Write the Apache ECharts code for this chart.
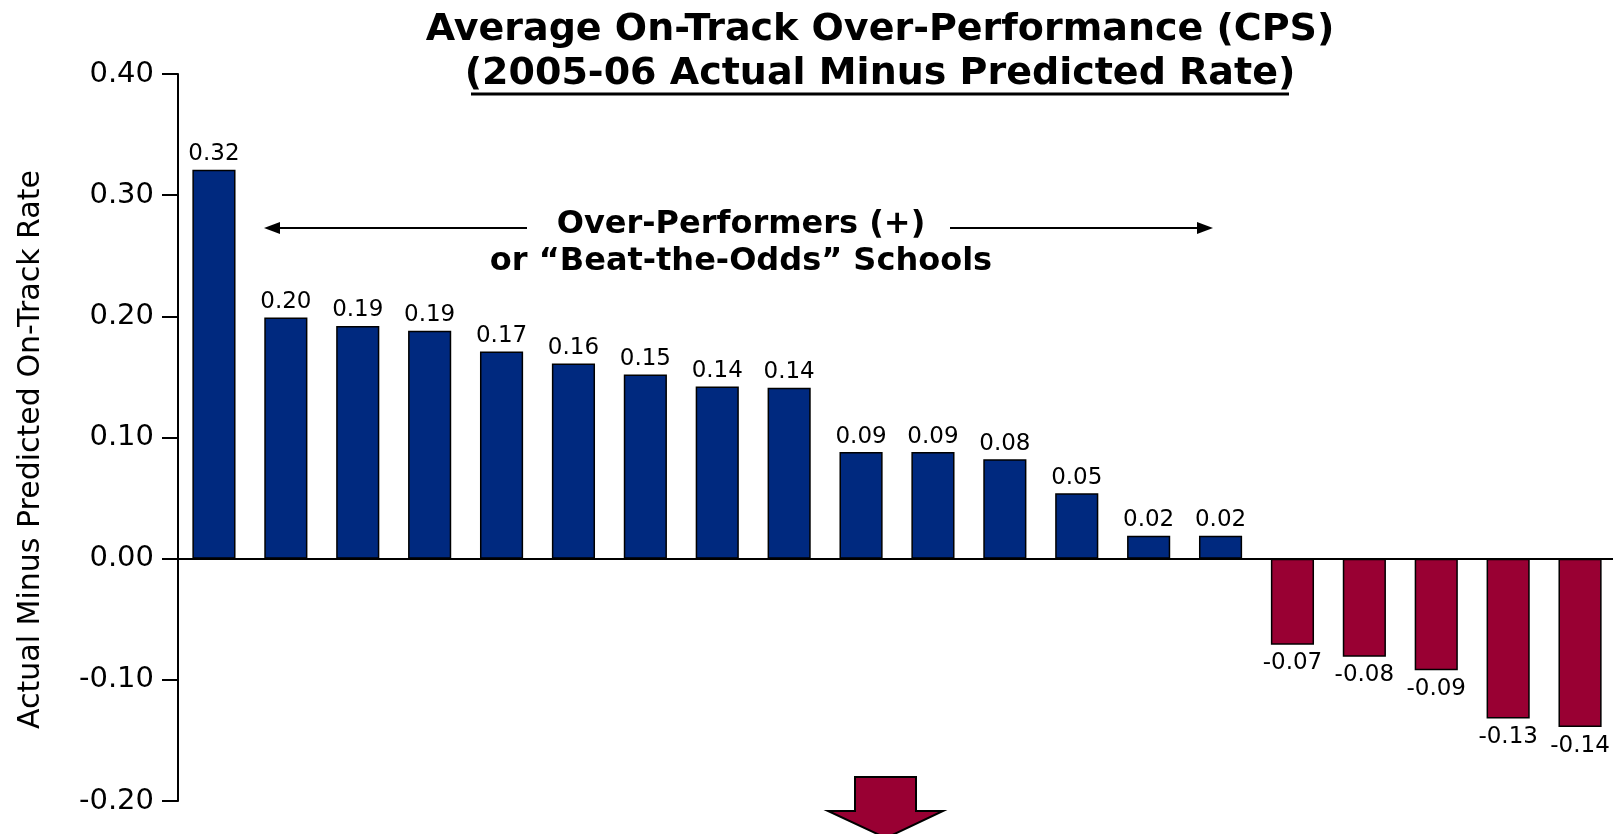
<!DOCTYPE html>
<html>
<head>
<meta charset="utf-8">
<script src="https://cdn.jsdelivr.net/npm/echarts@6/dist/echarts.min.js"></script>
<style>
  html, body { margin: 0; padding: 0; background: #fff; }
  #chart { width: 1613px; height: 834px; }
</style>
</head>
<body>
<div id="chart"></div>
<script>
  // schools sorted by over-performance (actual minus predicted on-track rate)
  var schools = ['S1', 'S2', 'S3', 'S4', 'S5', 'S6', 'S7', 'S8', 'S9', 'S10',
    'S11', 'S12', 'S13', 'S14', 'S15', 'S16', 'S17', 'S18', 'S19', 'S20']
  var overPerformance = [0.321, 0.199, 0.192, 0.188, 0.171, 0.161, 0.152, 0.142, 0.141, 0.088,
    0.088, 0.082, 0.054, 0.019, 0.019, -0.071, -0.081, -0.092, -0.132, -0.139]
  var yMin = -0.2
  var yMax = 0.4
  var yStep = 0.1

  var POS = '#00297f'
  var NEG = '#990033'
  var FONT = 'DejaVu Sans'

  var chart = echarts.init(document.getElementById('chart'))

  var barData = overPerformance.map(function (v) {
    return {
      value: v,
      itemStyle: { color: v >= 0 ? POS : NEG },
      label: { position: v >= 0 ? 'top' : 'bottom', distance: v >= 0 ? 4 : 7 }
    }
  })

  function centerText(text, x, y, size) {
    return {
      type: 'text', x: x, y: y, silent: true,
      style: {
        text: text, textAlign: 'center', textVerticalAlign: 'middle',
        fontSize: size, fontWeight: 'bold', fontFamily: FONT, fill: '#000'
      }
    }
  }

  chart.setOption({
    animation: false,
    backgroundColor: '#fff',
    grid: {
      left: 178,
      right: -3,
      top: 74,
      bottom: 33,
      containLabel: false,
      outerBoundsMode: 'none'
    },
    xAxis: {
      type: 'category',
      data: schools,
      axisLine: { onZero: true, lineStyle: { color: '#000', width: 2 } },
      axisTick: { show: false },
      axisLabel: { show: false },
      splitLine: { show: false }
    },
    yAxis: {
      type: 'value',
      min: yMin,
      max: yMax,
      interval: yStep,
      name: 'Actual Minus Predicted On-Track Rate',
      nameLocation: 'middle',
      nameRotate: 90,
      nameGap: 132,
      nameTextStyle: { color: '#000', fontSize: 30, fontFamily: FONT, padding: [0, 24, 0, 0] },
      axisLine: { show: true, lineStyle: { color: '#000', width: 2 } },
      axisTick: { show: true, length: 16, lineStyle: { color: '#000', width: 2 } },
      axisLabel: {
        color: '#000',
        fontSize: 29,
        fontFamily: FONT,
        margin: 24,
        formatter: function (v) { return v.toFixed(2) }
      },
      splitLine: { show: false }
    },
    series: [{
      type: 'bar',
      data: barData,
      barCategoryGap: '40%',
      itemStyle: { borderColor: '#000', borderWidth: 1.5 },
      label: {
        show: true,
        color: '#000',
        fontSize: 23,
        fontFamily: FONT,
        formatter: function (p) { return p.value.toFixed(2) }
      }
    }],
    graphic: [
      // title
      centerText('Average On-Track Over-Performance (CPS)', 880, 30, 38),
      centerText('(2005-06 Actual Minus Predicted Rate)', 880, 74, 38),
      {
        type: 'line', silent: true,
        shape: { x1: 471, y1: 94, x2: 1289, y2: 94 },
        style: { stroke: '#000', lineWidth: 3 }
      },
      // over-performers annotation
      centerText('Over-Performers (+)', 741, 225, 32),
      centerText('or \u201cBeat-the-Odds\u201d Schools', 741, 262, 32),
      {
        type: 'line', silent: true,
        shape: { x1: 275, y1: 228, x2: 527, y2: 228 },
        style: { stroke: '#000', lineWidth: 2 }
      },
      {
        type: 'polygon', silent: true,
        shape: { points: [[264, 228], [280, 222], [280, 234]] },
        style: { fill: '#000' }
      },
      {
        type: 'line', silent: true,
        shape: { x1: 950, y1: 228, x2: 1202, y2: 228 },
        style: { stroke: '#000', lineWidth: 2 }
      },
      {
        type: 'polygon', silent: true,
        shape: { points: [[1213, 228], [1197, 222], [1197, 234]] },
        style: { fill: '#000' }
      },
      // down arrow
      {
        type: 'polygon', silent: true,
        shape: { points: [[855, 777], [916, 777], [916, 811], [943, 811], [886, 838], [828, 811], [855, 811]] },
        style: { fill: NEG, stroke: '#000', lineWidth: 2 }
      }
    ]
  })
</script>
</body>
</html>
